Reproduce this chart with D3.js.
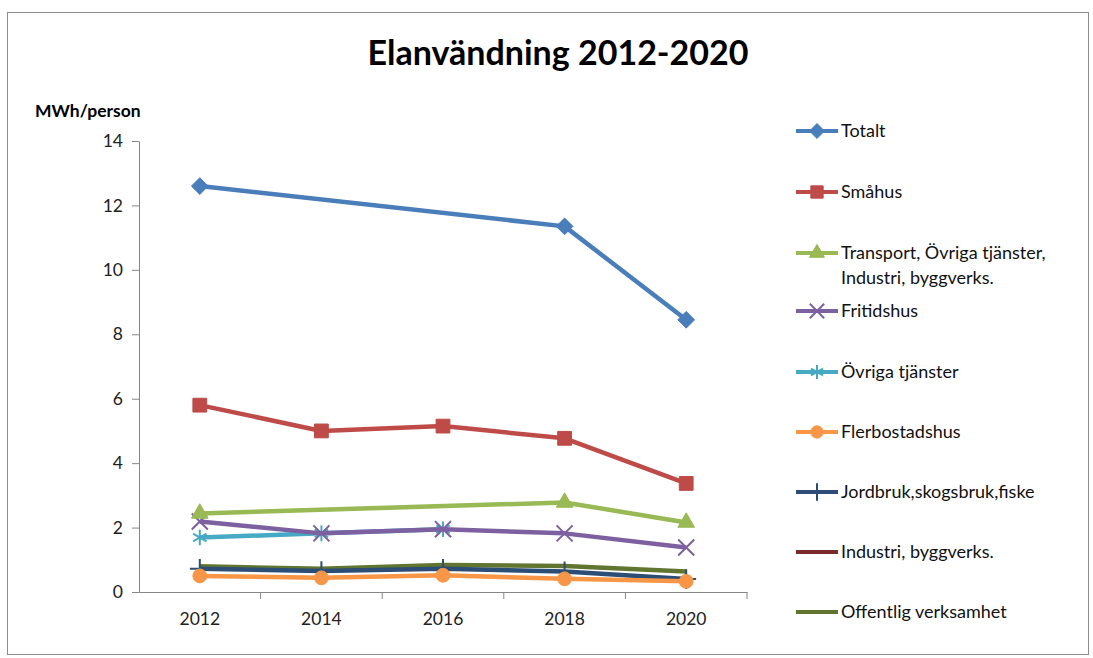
<!DOCTYPE html>
<html>
<head>
<meta charset="utf-8">
<script src="https://cdn.jsdelivr.net/npm/d3@7"></script>
<style>
  body { margin: 0; background: #fff; }
  text { font-family: Lato, "Open Sans", sans-serif; }
</style>
</head>
<body>
<svg id="chart" width="1093" height="658"></svg>
<script>
var years = ["2012", "2014", "2016", "2018", "2020"];

var totalt       = [12.6, null, null, 11.35, 8.45];
var smahus       = [5.8, 5.0, 5.15, 4.77, 3.37];
var transport    = [2.44, null, null, 2.78, 2.16];
var fritidshus   = [2.19, 1.82, 1.95, 1.82, 1.38];
var ovriga       = [1.69, 1.82, 1.95, null, null];
var flerbostad   = [0.5, 0.44, 0.52, 0.41, 0.33];
var jordbruk     = [0.72, 0.65, 0.72, 0.64, 0.4];
var industri     = [null, null, null, null, null];
var offentlig    = [0.8, 0.72, 0.84, 0.81, 0.64];

var yTicks = [0, 2, 4, 6, 8, 10, 12, 14];

// square rotated 45deg, like the Excel diamond marker
var diamond = {
  draw: function(ctx, size) {
    var r = Math.sqrt(size / 2);
    ctx.moveTo(0, -r); ctx.lineTo(r, 0); ctx.lineTo(0, r); ctx.lineTo(-r, 0); ctx.closePath();
  }
};

var series = [
  {name: ["Totalt"], values: totalt, color: "#4a7ebb", symbol: diamond, fill: true, size: 140},
  {name: ["Småhus"], values: smahus, color: "#be4b48", symbol: d3.symbolSquare, fill: true, size: 190},
  {name: ["Transport, Övriga tjänster,", "Industri, byggverks."], values: transport, color: "#98b954", symbol: d3.symbolTriangle, fill: true, size: 120},
  {name: ["Fritidshus"], values: fritidshus, color: "#7d60a0", symbol: d3.symbolX, fill: false, size: 170},
  {name: ["Övriga tjänster"], values: ovriga, color: "#46aac5", symbol: d3.symbolAsterisk, fill: false, size: 170},
  {name: ["Flerbostadshus"], values: flerbostad, color: "#f79646", symbol: d3.symbolCircle, fill: true, size: 150},
  {name: ["Jordbruk,skogsbruk,fiske"], values: jordbruk, color: "#2c4d75", symbol: d3.symbolPlus, fill: false, size: 130},
  {name: ["Industri, byggverks."], values: industri, color: "#772c2a", symbol: null},
  {name: ["Offentlig verksamhet"], values: offentlig, color: "#5f7530", symbol: null}
];

var svg = d3.select("#chart");

// outer frame
svg.append("rect")
    .attr("x", 7.5).attr("y", 12.5)
    .attr("width", 1081).attr("height", 642)
    .attr("fill", "#fff")
    .attr("stroke", "#8c8c8c")
    .attr("stroke-width", 1);

var x = d3.scaleBand()
    .domain(years)
    .range([139, 747]);

var y = d3.scaleLinear()
    .domain([0, 14])
    .range([592, 141]);

function cx(i) { return x(years[i]) + x.bandwidth() / 2; }

// y axis
var yAxis = svg.append("g")
    .attr("transform", "translate(139,0)")
    .call(d3.axisLeft(y).tickValues(yTicks).tickSize(7).tickPadding(9).tickSizeOuter(0));
yAxis.selectAll("line").attr("stroke", "#868686");
yAxis.select(".domain").attr("stroke", "#868686");
yAxis.selectAll("text").attr("font-size", 17.5).attr("fill", "#222").attr("font-family", "Lato, sans-serif");

// x axis
var xAxis = svg.append("g")
    .attr("transform", "translate(0,592)")
    .call(d3.axisBottom(x).tickSize(0).tickPadding(21).tickSizeOuter(0));
xAxis.select(".domain").attr("stroke", "#868686");
xAxis.selectAll("text").attr("font-size", 17.5).attr("fill", "#222").attr("font-family", "Lato, sans-serif");
xAxis.selectAll(".sep")
    .data(years.slice(1).concat(["end"]))
    .enter().append("line")
    .attr("x1", function(d, i) { return 139 + x.bandwidth() * (i + 1); })
    .attr("x2", function(d, i) { return 139 + x.bandwidth() * (i + 1); })
    .attr("y1", 0).attr("y2", 7)
    .attr("stroke", "#868686");

// lines
var line = d3.line()
    .x(function(d) { return cx(d.i); })
    .y(function(d) { return y(d.v); });

var drawOrder = series.slice().reverse();
drawOrder.forEach(function(s) {
  var pts = s.values.map(function(v, i) { return {i: i, v: v}; })
      .filter(function(d) { return d.v !== null; });
  if (!pts.length) return;
  svg.append("path")
      .datum(pts)
      .attr("fill", "none")
      .attr("stroke", s.color)
      .attr("stroke-width", 4.5)
      .attr("stroke-linejoin", "round")
      .attr("d", line);
  if (s.symbol) {
    svg.selectAll(null)
        .data(pts)
        .enter().append("path")
        .attr("transform", function(d) { return "translate(" + cx(d.i) + "," + y(d.v) + ")"; })
        .attr("d", d3.symbol().type(s.symbol).size(s.size))
        .attr("fill", s.fill ? s.color : "none")
        .attr("stroke", s.color)
        .attr("stroke-width", s.fill ? 1 : 2);
  }
});

// title
svg.append("text")
    .attr("x", 558).attr("y", 65)
    .attr("text-anchor", "middle")
    .attr("font-size", 34)
    .attr("font-weight", "bold")
    .attr("fill", "#000")
    .text("Elanvändning 2012-2020");

svg.append("text")
    .attr("x", 35).attr("y", 117)
    .attr("font-size", 17.5)
    .attr("font-weight", "bold")
    .attr("fill", "#000")
    .text("MWh/person");

// legend
var legendY = [131, 192, 253, 311, 372, 432, 492, 552, 612];
var legend = svg.append("g");
series.forEach(function(s, k) {
  var g = legend.append("g").attr("transform", "translate(0," + legendY[k] + ")");
  g.append("line")
      .attr("x1", 796).attr("x2", 838)
      .attr("y1", 0).attr("y2", 0)
      .attr("stroke", s.color)
      .attr("stroke-width", 4);
  if (s.symbol) {
    g.append("path")
        .attr("transform", "translate(817,0)")
        .attr("d", d3.symbol().type(s.symbol).size(s.size * 0.8))
        .attr("fill", s.fill ? s.color : "none")
        .attr("stroke", s.color)
        .attr("stroke-width", s.fill ? 1 : 2);
  }
  s.name.forEach(function(t, j) {
    g.append("text")
        .attr("x", 841).attr("y", 6 + j * 25)
        .attr("font-size", 18)
        .attr("fill", "#111")
        .text(t);
  });
});
</script>
</body>
</html>
